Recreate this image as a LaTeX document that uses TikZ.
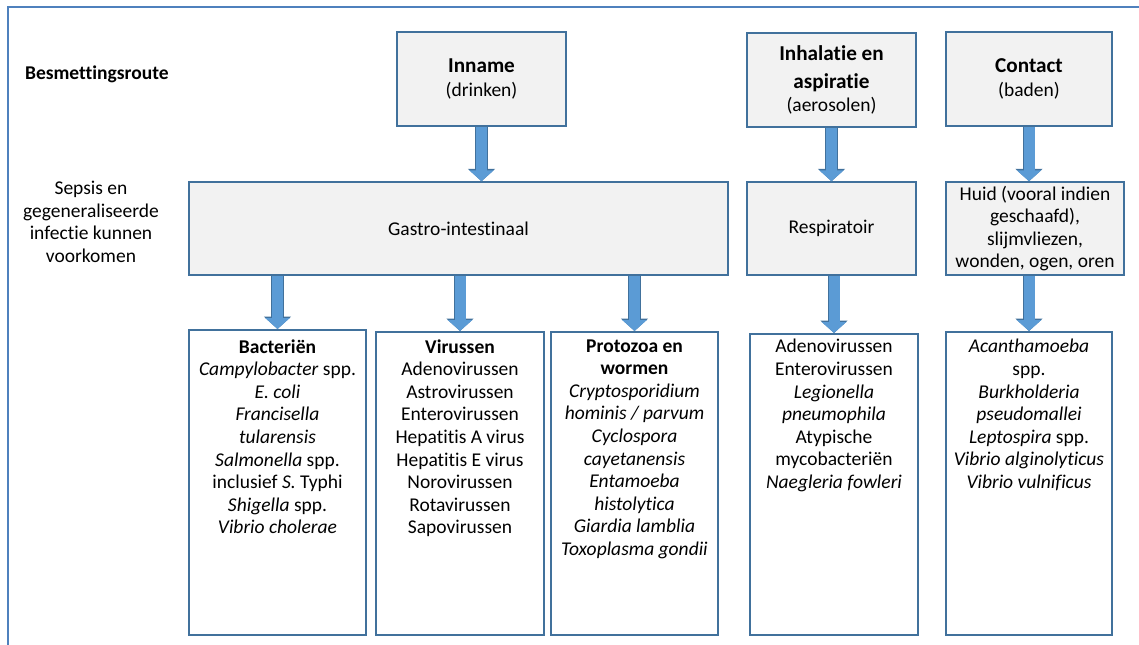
\documentclass[tikz,border=0pt]{standalone}
\usepackage{fontspec}
\setmainfont{Carlito}[Ligatures=NoCommon]
\usepackage{xcolor}
\usepackage{tikz}
\usetikzlibrary{arrows.meta,positioning}
\definecolor{kaderblauw}{RGB}{79,129,189}
\definecolor{randblauw}{RGB}{65,113,156}
\definecolor{pijlblauw}{RGB}{91,155,213}
\definecolor{vakgrijs}{RGB}{242,242,242}
\newcommand{\kop}[1]{{\fontsize{10.6}{13}\selectfont\bfseries #1}}
\tikzset{
  bron/.style={rectangle,draw=randblauw,line width=0.75pt,fill=vakgrijs,
    minimum width=84.5pt,minimum height=47pt,align=center,inner sep=1pt},
  route/.style={rectangle,draw=randblauw,line width=0.75pt,fill=vakgrijs,
    minimum height=46.5pt,align=center,inner sep=1pt},
  lijst/.style={rectangle,draw=randblauw,line width=0.75pt,fill=white,
    minimum width=84pt,anchor=north},
  lijsttekst/.style={align=center,inner sep=0pt},
  pijl/.style={line width=5.5pt,pijlblauw,-{Triangle[width=12pt,length=5.5pt]},
    preaction={draw=randblauw,line width=6.3pt,-{Triangle[width=13.2pt,length=6.2pt]}}},
  kader/.style={draw=kaderblauw,line width=1pt}
}

\begin{document}
\begin{tikzpicture}[x=0.5pt,y=-0.5pt,font=\fontsize{9.75}{11.3}\selectfont]
\useasboundingbox (0,0) rectangle (1139,644);
\draw[kader] (8,660) |- (1160,7);

\node[anchor=west,font=\fontsize{9.75}{11.3}\selectfont\bfseries] (besmetting) at (18,74) {Besmettingsroute};
\node[align=center] (sepsis) at (91,222) {Sepsis en\\gegeneraliseerde\\infectie kunnen\\voorkomen};

\node[bron] (inname) at (481.5,79) {\kop{Inname}\\[0.7pt](drinken)};
\node[bron] (inhalatie) at (831.5,80) {\kop{Inhalatie en}\\[2.5pt]\kop{aspiratie}\\(aerosolen)};
\node[bron,minimum width=83pt] (contact) at (1029,79) {\kop{Contact}\\[0.7pt](baden)};

\node[route,minimum width=269.5pt] (gastro) at (458.5,228.5) {Gastro-intestinaal};
\node[route,minimum width=84.5pt] (respiratoir) at (831.5,228.5) {Respiratoir};
\node[route,minimum width=89pt] (huid) at (1035,228.5)
  {Huid (vooral indien\\geschaafd),\\slijmvliezen,\\wonden, ogen, oren};

\node[lijst,minimum width=88.5pt,minimum height=152.5pt] (bacterien) at (277.5,329) {};
\node[lijst,minimum height=151.5pt] (virussen) at (460,331) {};
\node[lijst,minimum width=83.5pt,minimum height=151.5pt] (protozoa) at (634.5,331) {};
\node[lijst,minimum height=150.5pt] (resplijst) at (834,333) {};
\node[lijst,minimum width=83pt,minimum height=151.5pt] (contactlijst) at (1029,331) {};

\node[lijsttekst,below=5pt of bacterien.north] (bacterientekst)
  {\textbf{Bacteriën}\\\textit{Campylobacter} spp.\\\textit{E. coli}\\\textit{Francisella}\\
   \textit{tularensis}\\\textit{Salmonella} spp.\\inclusief \textit{S.} Typhi\\
   \textit{Shigella} spp.\\\textit{Vibrio cholerae}};
\node[lijsttekst,below=4pt of virussen.north] (virussentekst)
  {\textbf{Virussen}\\Adenovirussen\\Astrovirussen\\Enterovirussen\\Hepatitis A virus\\
   Hepatitis E virus\\Norovirussen\\Rotavirussen\\Sapovirussen};
\node[lijsttekst,below=4pt of protozoa.north] (protozoatekst)
  {\textbf{Protozoa en}\\\textbf{wormen}\\\textit{Cryptosporidium}\\\textit{hominis / parvum}\\
   \textit{Cyclospora}\\\textit{cayetanensis}\\\textit{Entamoeba}\\\textit{histolytica}\\
   \textit{Giardia lamblia}\\\textit{Toxoplasma gondii}};
\node[lijsttekst,below=3pt of resplijst.north] (resptekst)
  {Adenovirussen\\Enterovirussen\\\textit{Legionella}\\\textit{pneumophila}\\Atypische\\
   mycobacteriën\\\textit{Naegleria fowleri}};
\node[lijsttekst,below=4pt of contactlijst.north] (contacttekst)
  {\textit{Acanthamoeba}\\spp.\\\textit{Burkholderia}\\\textit{pseudomallei}\\
   \textit{Leptospira} spp.\\\textit{Vibrio alginolyticus}\\\textit{Vibrio vulnificus}};

\draw[pijl] (inname.south) -- (inname.south |- gastro.north);
\draw[pijl] (inhalatie.south) -- (inhalatie.south |- respiratoir.north);
\draw[pijl] (contact.south) -- (contact.south |- huid.north);
\foreach \doel in {bacterien,virussen,protozoa}
  \draw[pijl] (gastro.south -| \doel.north) -- (\doel.north);
\draw[pijl] (respiratoir.south -| resplijst.north) -- (resplijst.north);
\draw[pijl] (huid.south -| contactlijst.north) -- (contactlijst.north);
\end{tikzpicture}
\end{document}
